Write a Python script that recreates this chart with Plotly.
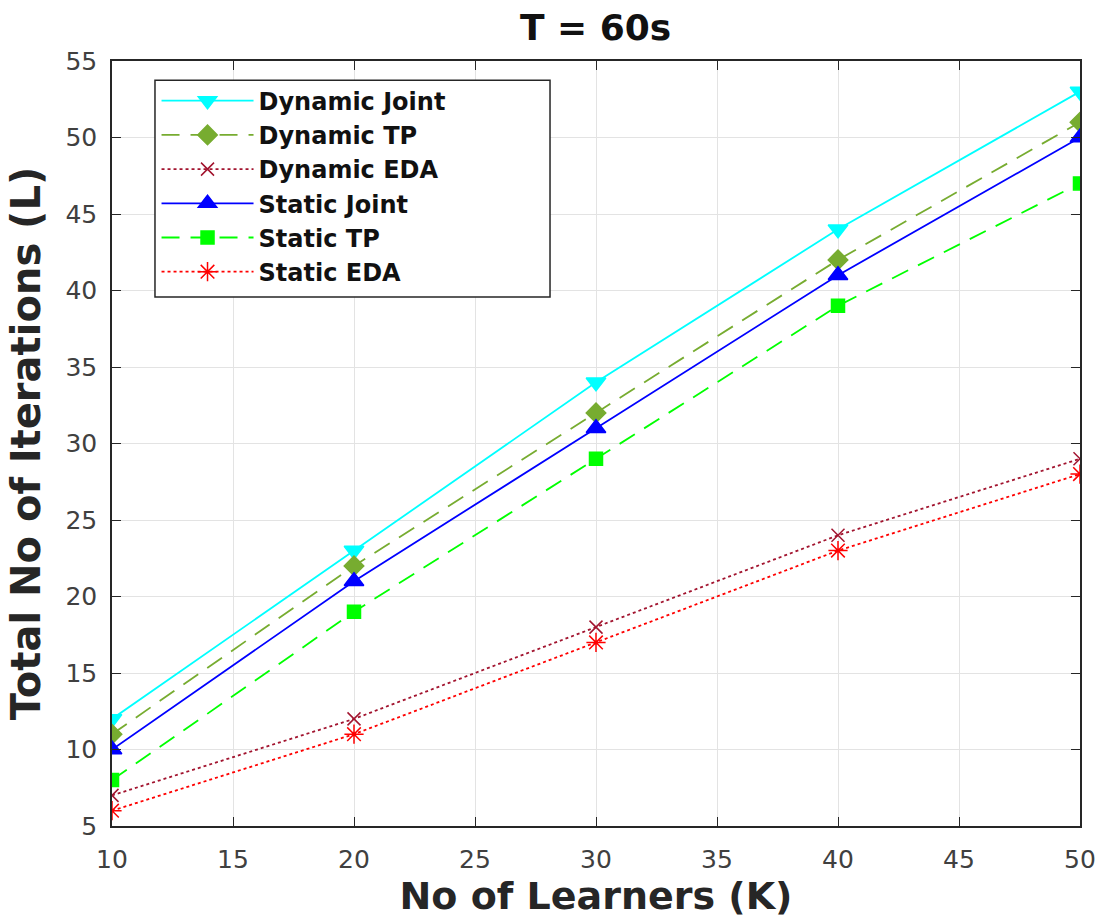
import plotly.graph_objects as go

learners = [10, 20, 30, 40, 50]

dynamic_joint = [12, 23, 34, 44, 53]
dynamic_tp = [11, 22, 32, 42, 51]
dynamic_eda = [7, 12, 18, 24, 29]
static_joint = [10, 21, 31, 41, 50]
static_tp = [8, 19, 29, 39, 47]
static_eda = [6, 11, 17, 23, 28]

x_ticks = [10, 15, 20, 25, 30, 35, 40, 45, 50]
y_ticks = [5, 10, 15, 20, 25, 30, 35, 40, 45, 50, 55]

long_dash = "18px,11px"
series = [
    ("Dynamic Joint", dynamic_joint, "#00FFFF", "solid", "triangle-down", 17),
    ("Dynamic TP", dynamic_tp, "#77AC30", long_dash, "diamond", 15),
    ("Dynamic EDA", dynamic_eda, "#A2142F", "dot", "x-thin-open", 13),
    ("Static Joint", static_joint, "#0000FF", "solid", "triangle-up", 17),
    ("Static TP", static_tp, "#00FF00", long_dash, "square", 13),
    ("Static EDA", static_eda, "#FF0000", "dot", "asterisk-open", 16),
]

fig = go.Figure()
for name, vals, color, dash, symbol, size in series:
    fig.add_trace(go.Scatter(
        x=learners, y=vals, name="<b>" + name + "</b>", mode="lines+markers",
        line=dict(color=color, width=1.8, dash=dash),
        marker=dict(symbol=symbol, size=size, color=color,
                    line=dict(color=color, width=1.5)),
    ))

axis_common = dict(
    showgrid=True, gridcolor="#E3E3E3", gridwidth=1,
    showline=True, linecolor="#262626", linewidth=1.5, mirror="ticks",
    ticks="inside", ticklen=9, tickcolor="#262626",
    tickfont=dict(family="DejaVu Sans", size=25, color="#404040"),
    zeroline=False, automargin=False,
)

# Legend frame drawn as a shape so it can be wider than the entries
fig.add_shape(type="rect", xref="paper", yref="paper",
              x0=0.0444, x1=0.4525, y0=0.6915, y1=0.975,
              line=dict(color="#262626", width=1.5), fillcolor="white",
              layer="above")

fig.update_layout(
    width=1101, height=922,
    margin=dict(l=112, r=21, t=61, b=96),
    paper_bgcolor="white", plot_bgcolor="white",
    title=dict(text="<b>T = 60s</b>", x=0.541, xanchor="center", y=0.97, yanchor="middle",
               font=dict(family="DejaVu Sans", size=36, color="#111")),
    xaxis=dict(range=[10, 50], tickvals=x_ticks, ticklabelstandoff=10,
               title=dict(text="<b>No of Learners (K)</b>", standoff=4,
                          font=dict(family="DejaVu Sans", size=38, color="#262626")),
               **axis_common),
    yaxis=dict(range=[5, 55], tickvals=y_ticks, ticklabelstandoff=8,
               title=dict(text="<b>Total No of Iterations (L)</b>", standoff=12,
                          font=dict(family="DejaVu Sans", size=40, color="#262626")),
               **axis_common),
    legend=dict(x=0.046, y=0.977, xanchor="left", yanchor="top",
                bgcolor="rgba(0,0,0,0)", borderwidth=0,
                itemwidth=92, tracegroupgap=0,
                font=dict(family="DejaVu Sans", size=24, color="#111")),
)

fig.write_html("out.html")
